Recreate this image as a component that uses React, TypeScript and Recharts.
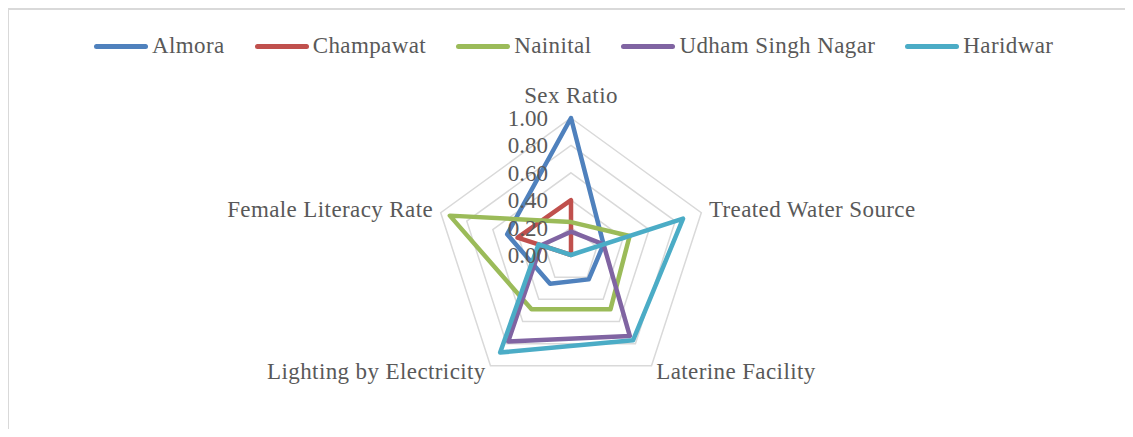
import React from "react";
import { RadarChart, Radar, PolarGrid, PolarAngleAxis, PolarRadiusAxis } from "recharts";

// indicators (axes), clockwise from the top
const indicators = [
  "Sex Ratio",
  "Treated Water Source",
  "Laterine Facility",
  "Lighting by Electricity",
  "Female Literacy Rate",
];

const almora = [1.0, 0.25, 0.22, 0.26, 0.49];
const champawat = [0.4, 0.0, 0.0, 0.0, 0.41];
const nainital = [0.24, 0.45, 0.49, 0.49, 0.93];
const udhamSinghNagar = [0.17, 0.25, 0.73, 0.78, 0.23];
const haridwar = [0.0, 0.86, 0.77, 0.88, 0.25];

const radiusTicks = [0, 0.2, 0.4, 0.6, 0.8, 1.0];

const series = [
  { key: "almora", name: "Almora", values: almora, color: "#4f81bd" },
  { key: "champawat", name: "Champawat", values: champawat, color: "#c0504d" },
  { key: "nainital", name: "Nainital", values: nainital, color: "#9bbb59" },
  { key: "udham", name: "Udham Singh Nagar", values: udhamSinghNagar, color: "#8064a2" },
  { key: "haridwar", name: "Haridwar", values: haridwar, color: "#4bacc6" },
];

const data = indicators.map((name, i) => {
  const row: any = { name };
  series.forEach((s) => (row[s.key] = s.values[i]));
  return row;
});

const FONT = "'Liberation Serif', 'Times New Roman', serif";
const TEXT = "#595959";
const FS = 23;
const LS = 0.4;

function AngleTick(props: any) {
  const { x, y, textAnchor, payload } = props;
  const dy = textAnchor === "middle" ? -7 : 7;
  return (
    <text
      x={x}
      y={y}
      dy={dy}
      textAnchor={textAnchor}
      fill={TEXT}
      fontSize={FS}
      letterSpacing={LS}
      fontFamily={FONT}
    >
      {payload.value}
    </text>
  );
}

function RadiusTick(props: any) {
  const { x, y, payload } = props;
  return (
    <text x={x - 23} y={y} dy={8} textAnchor="end" fill={TEXT} fontSize={FS} fontFamily={FONT}>
      {Number(payload.value).toFixed(2)}
    </text>
  );
}

function LegendRow() {
  return (
    <div
      style={{
        position: "absolute",
        top: 33,
        left: 94,
        display: "flex",
        alignItems: "center",
        fontFamily: FONT,
        fontSize: FS,
        letterSpacing: LS,
        color: TEXT,
        whiteSpace: "nowrap",
      }}
    >
      {series.map((s) => (
        <div key={s.key} style={{ display: "flex", alignItems: "center", marginRight: 30 }}>
          <span
            style={{ display: "inline-block", width: 54, height: 5, borderRadius: 3, background: s.color, marginRight: 4 }}
          />
          <span>{s.name}</span>
        </div>
      ))}
    </div>
  );
}

export default function App() {
  return (
    <div style={{ position: "relative", margin: -8, width: 1133, height: 437, overflow: "hidden", background: "#fff" }}>
      <div
        style={{
          position: "absolute",
          left: 7,
          top: 8,
          width: 1140,
          height: 440,
          borderLeft: "2px solid #d9d9d9",
          borderTop: "2px solid #d9d9d9",
        }}
      />
      <LegendRow />
      <div style={{ position: "absolute", left: 0, top: 0 }}>
        <RadarChart
          width={1133}
          height={437}
          data={data}
          cx={571}
          cy={255}
          outerRadius={137}
          margin={{ top: 0, right: 0, bottom: 0, left: 0 }}
        >
          <PolarGrid radialLines={false} stroke="#d9d9d9" strokeWidth={1.5} />
          <PolarAngleAxis dataKey="name" tick={<AngleTick />} tickLine={false} axisLine={false} />
          <PolarRadiusAxis
            angle={90}
            domain={[0, 1]}
            ticks={radiusTicks as any}
            tickCount={6}
            tick={<RadiusTick />}
            axisLine={false}
            tickLine={false}
          />
          {series.map((s) => (
            <Radar
              key={s.key}
              name={s.name}
              dataKey={s.key}
              stroke={s.color}
              strokeWidth={4.5}
              strokeLinejoin="round"
              fill="none"
              fillOpacity={0}
              dot={false}
              isAnimationActive={false}
            />
          ))}
        </RadarChart>
      </div>
    </div>
  );
}
